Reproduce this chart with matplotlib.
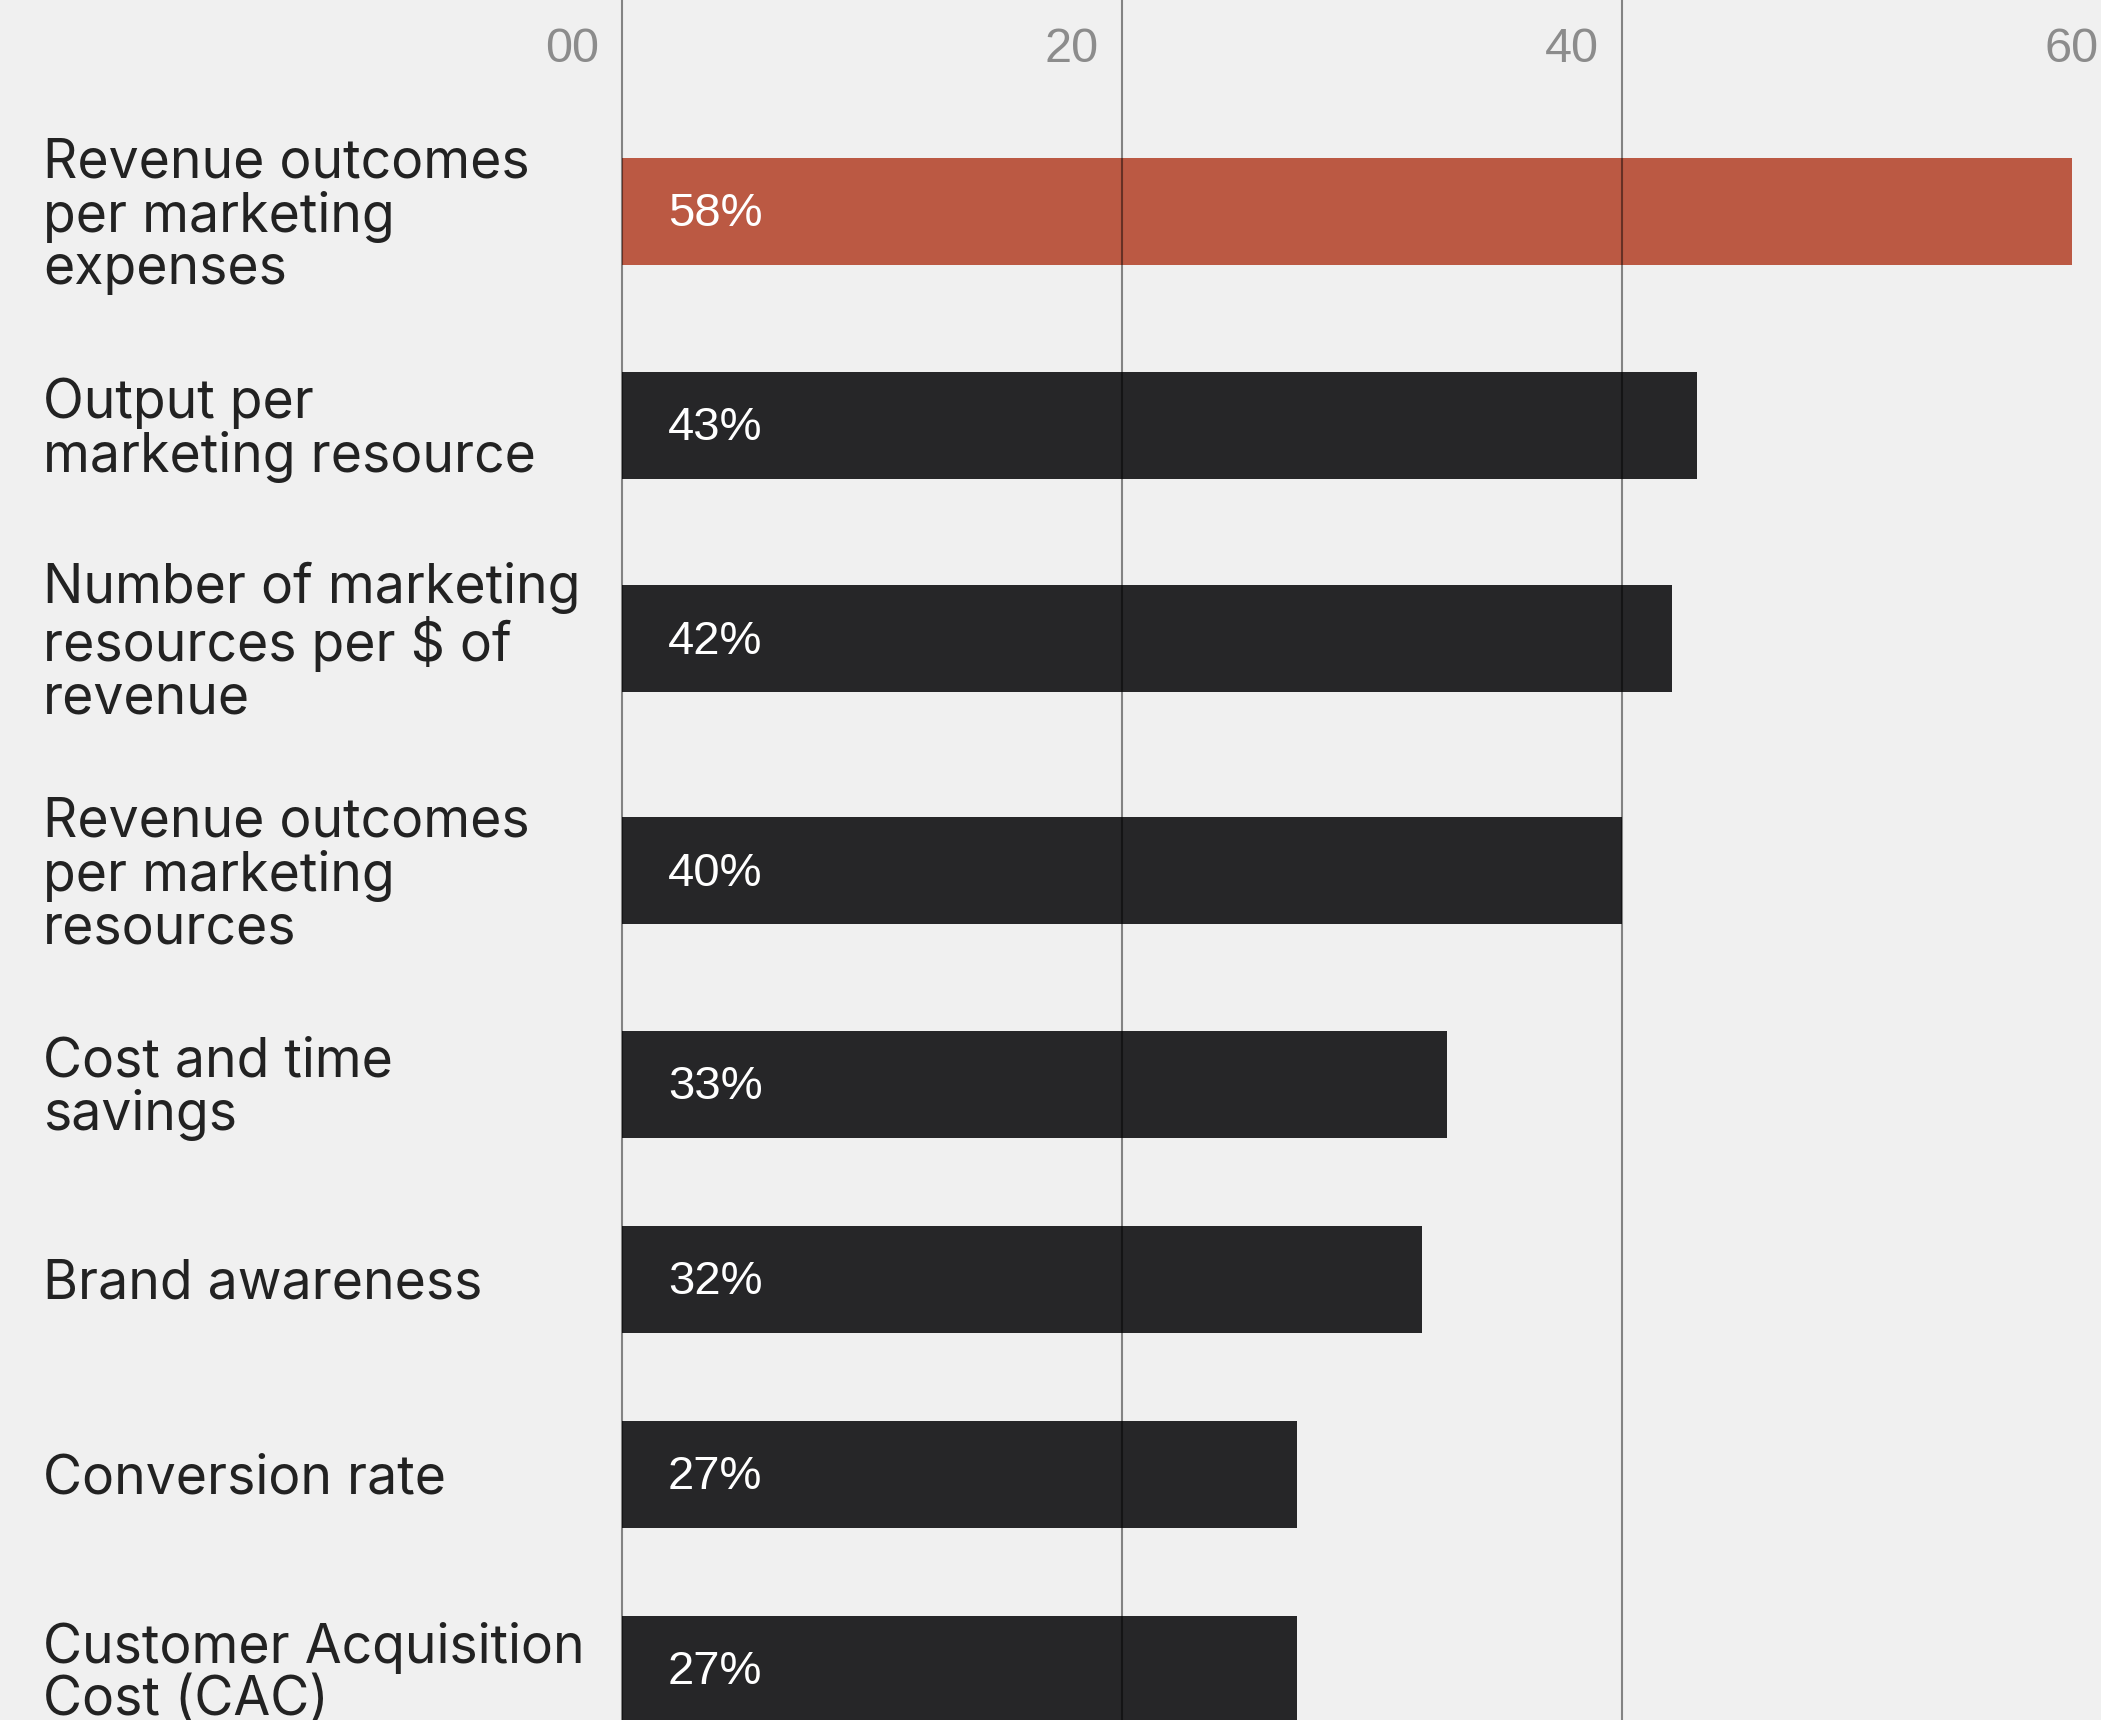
import matplotlib
matplotlib.use("Agg")
import matplotlib.pyplot as plt

# ---- data -------------------------------------------------------------
categories = [
    "Revenue outcomes\nper marketing\nexpenses",
    "Output per\nmarketing resource",
    "Number of marketing\nresources per $ of\nrevenue",
    "Revenue outcomes\nper marketing\nresources",
    "Cost and time\nsavings",
    "Brand awareness",
    "Conversion rate",
    "Customer Acquisition\nCost (CAC)",
]
values = [58, 43, 42, 40, 33, 32, 27, 27]
highlight_index = 0
x_ticks = [0, 20, 40, 60]
x_tick_labels = ["00", "20", "40", "60"]

# ---- styling ----------------------------------------------------------
BG = "#f0f0f0"
RED = "#bb5943"
DARK = "#262628"
TEXT = "#222222"
TICK = "#8c8c8c"

W, H = 2101, 1720
fig = plt.figure(figsize=(W / 100, H / 100), dpi=100)
fig.patch.set_facecolor(BG)
ax = fig.add_axes([0, 0, 1, 1])
ax.set_facecolor(BG)

# horizontal scale: value 0 sits 622 px from the left, 25 px per percent
zero_px, px_per_unit = 622, 25
ax.set_xlim(-zero_px / px_per_unit, (W - zero_px) / px_per_unit)
# vertical axis in pixel rows, top to bottom
ax.set_ylim(H, 0)

# row layout: taller blocks for three-line labels
bar_h, gap, line_px = 107, 88, 52
blocks = [max(bar_h, line_px * len(c.split("\n")) - 12) for c in categories]
centers = []
y = 211.5
for i, b in enumerate(blocks):
    if i:
        y += blocks[i - 1] / 2 + gap + b / 2
    centers.append(y)

colors = [RED if i == highlight_index else DARK for i in range(len(values))]
ax.barh(centers, values, height=bar_h, color=colors, linewidth=0, zorder=2)

# vertical guide lines drawn over the bars
for t in x_ticks:
    ax.axvline(t, color="black", alpha=0.45, linewidth=1.5, zorder=3)

# scale numbers along the top, right-aligned just left of each line
for t, lbl in zip(x_ticks, x_tick_labels):
    ax.annotate(lbl, (t, 50), xytext=(-23, 0), textcoords="offset pixels",
                ha="right", va="center", color=TICK, fontsize=35,
                family="Liberation Sans", annotation_clip=False)

# category labels at the left
for c, yc in zip(categories, centers):
    ax.annotate(c, (43 / W, yc), xycoords=("axes fraction", "data"),
                xytext=(0, -5), textcoords="offset pixels",
                ha="left", va="center", color=TEXT, fontsize=38.5,
                family="Inter", linespacing=1.04, parse_math=False)

# value labels inside the bars
for v, yc in zip(values, centers):
    ax.annotate(f"{v}%", (0, yc), xytext=(46, -3), textcoords="offset pixels",
                ha="left", va="center", color="white", fontsize=34,
                family="Liberation Sans")

ax.axis("off")
fig.savefig("out.png", dpi=100, facecolor=BG)
